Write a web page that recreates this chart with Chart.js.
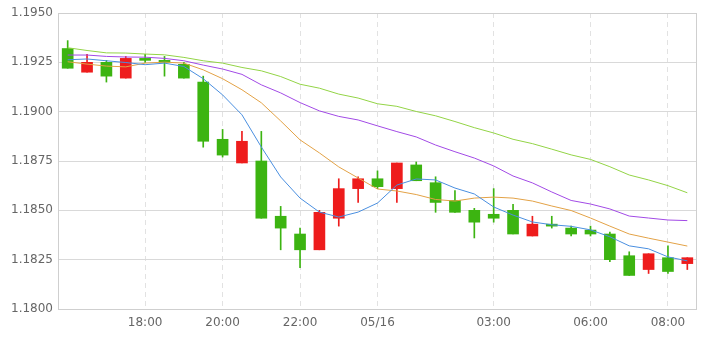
<!DOCTYPE html>
<html>
<head>
<meta charset="utf-8">
<script src="https://cdn.jsdelivr.net/npm/chart.js@4/dist/chart.umd.min.js"></script>
<style>
  html, body { margin: 0; padding: 0; background: #fff; }
</style>
</head>
<body>
<canvas id="kChart" width="702" height="338"></canvas>
<script>
// 30 minute candles, 16:00 -> 08:30 next day (one slot missing between 03:00 and 06:00)
const times = ['16:00','16:30','17:00','17:30','18:00','18:30','19:00','19:30',
  '20:00','20:30','21:00','21:30','22:00','22:30','23:00','23:30',
  '05/16','00:30','01:00','01:30','02:00','02:30','03:00','03:30',
  '04:00','05:00','05:30','06:00','06:30','07:00','07:30','08:00','08:30']
const shownTicks = ['18:00','20:00','22:00','05/16','03:00','06:00','08:00']

const open  = [1.1932,1.1920,1.1925,1.1917,1.1927,1.1926,1.1924,1.1915,1.1886,1.1874,1.1875,
  1.1847,1.1838,1.1830,1.1846,1.1861,1.1866,1.1861,1.1873,1.1864,1.1855,1.1850,1.1848,
  1.1850,1.1837,1.1843,1.1841,1.1840,1.1838,1.1827,1.1820,1.1826,1.1823]
const high  = [1.1936,1.1929,1.1926,1.1928,1.1929,1.1928,1.1925,1.1918,1.1891,1.1890,1.1890,
  1.1852,1.1841,1.1850,1.1866,1.1867,1.1870,1.1874,1.18745,1.1867,1.1860,1.1851,1.1861,
  1.1853,1.1847,1.1847,1.1842,1.1842,1.1839,1.1829,1.1828,1.1832,1.1826]
const low   = [1.1922,1.1920,1.1915,1.1917,1.1925,1.1918,1.1917,1.1882,1.1877,1.1874,1.1846,
  1.1830,1.1821,1.1830,1.1842,1.1854,1.1861,1.1854,1.1865,1.1849,1.1849,1.1836,1.1844,
  1.1838,1.1837,1.1841,1.1837,1.1837,1.1824,1.1817,1.1818,1.1818,1.1820]
const close = [1.1922,1.1925,1.1918,1.1927,1.1926,1.1925,1.1917,1.1885,1.1878,1.1885,1.1846,
  1.1841,1.1830,1.1849,1.1861,1.1866,1.1862,1.1874,1.1865,1.1854,1.1849,1.1844,1.1846,
  1.1838,1.1843,1.1842,1.1838,1.1838,1.1825,1.1817,1.1828,1.1819,1.1826]

// moving averages
const ma5  = [1.19263,1.19267,1.19258,1.19249,1.19238,1.19246,1.19229,1.19167,1.19085,1.18984,1.18821,
  1.18669,1.18562,1.18491,1.18466,1.18491,1.18537,1.18628,1.18659,1.18654,1.18613,1.18583,1.18517,
  1.18476,1.18441,1.18427,1.18419,1.18401,1.18366,1.18320,1.18305,1.18264,1.18244]
const ma10 = [1.19253,1.19241,1.19231,1.19227,1.19246,1.19251,1.19246,1.19212,1.19167,1.19111,1.19045,
  1.18953,1.18857,1.18791,1.18720,1.18664,1.18608,1.18598,1.18580,1.18555,1.18547,1.18562,1.18567,
  1.18562,1.18547,1.18522,1.18499,1.18461,1.18420,1.18380,1.18359,1.18339,1.18319]
const ma20 = [1.19287,1.19287,1.19280,1.19277,1.19276,1.19270,1.19258,1.19236,1.19216,1.19189,1.19136,
  1.19095,1.19046,1.19004,1.18976,1.18958,1.18928,1.18899,1.18872,1.18831,1.18797,1.18765,1.18725,
  1.18674,1.18639,1.18593,1.18550,1.18532,1.18507,1.18471,1.18461,1.18451,1.18448]
const ma30 = [1.19324,1.19310,1.19298,1.19297,1.19292,1.19288,1.19275,1.19258,1.19246,1.19224,1.19207,
  1.19178,1.19139,1.19119,1.19089,1.19069,1.19040,1.19027,1.19001,1.18979,1.18950,1.18919,1.18892,
  1.18860,1.18838,1.18810,1.18781,1.18758,1.18721,1.18679,1.18654,1.18625,1.18589]

const yTicks = [1.18, 1.1825, 1.185, 1.1875, 1.19, 1.1925, 1.195]

const UP = '#ee1c1c', DOWN = '#3cb411'
const candleColors = open.map((o, i) => close[i] >= o ? UP : DOWN)

const frame = {
  id: 'frame',
  beforeDatasetsDraw(chart) {
    const {ctx, chartArea: a} = chart
    ctx.save()
    ctx.strokeStyle = '#cfcfcf'
    ctx.lineWidth = 1
    ctx.strokeRect(Math.round(a.left) + 0.5, Math.round(a.top) + 0.5,
      Math.round(a.right - a.left) - 1, Math.round(a.bottom - a.top))
    ctx.restore()
  }
}

const lineSet = (data, color) => ({
  type: 'line', data, borderColor: color, borderWidth: 1,
  pointRadius: 0, tension: 0, order: 0
})

new Chart('kChart', {
  type: 'bar',
  data: {
    labels: times,
    datasets: [
      lineSet(ma5, '#4a8fe0'),
      lineSet(ma10, '#e3a246'),
      lineSet(ma20, '#a24ae6'),
      lineSet(ma30, '#93d446'),
      {
        data: open.map((o, i) => [o, close[i]]),
        backgroundColor: candleColors, barThickness: 11,
        grouped: false, order: 1, minBarLength: 1
      },
      {
        data: low.map((l, i) => [l, high[i]]),
        backgroundColor: candleColors, barThickness: 1,
        grouped: false, order: 2
      }
    ]
  },
  options: {
    responsive: false,
    devicePixelRatio: 1,
    animation: false,
    layout: { padding: { top: 13, right: 5, left: 0, bottom: 0 } },
    plugins: { legend: { display: false }, tooltip: { enabled: false } },
    scales: {
      x: {
        offset: true,
        grid: {
          offset: false, drawTicks: false,
          color: ctx => shownTicks.includes(times[ctx.index]) ? '#e2e2e2' : 'transparent'
        },
        border: { display: false, dash: [5, 4] },
        ticks: {
          autoSkip: false, maxRotation: 0, padding: 7,
          color: '#666', font: { family: 'DejaVu Sans', size: 12 },
          callback: function (v) {
            const l = this.getLabelForValue(v)
            return shownTicks.includes(l) ? l : ''
          }
        },
        afterFit: s => { s.height = 29 }
      },
      y: {
        min: 1.18, max: 1.195,
        grid: { color: '#d9d9d9', drawTicks: false },
        border: { display: false },
        afterBuildTicks: s => { s.ticks = yTicks.map(v => ({ value: v })) },
        ticks: {
          padding: 5, color: '#666', font: { family: 'DejaVu Sans', size: 12 },
          callback: v => Number(v).toFixed(4)
        },
        afterFit: s => { s.width = 58 }
      }
    }
  },
  plugins: [frame]
})
</script>
</body>
</html>
